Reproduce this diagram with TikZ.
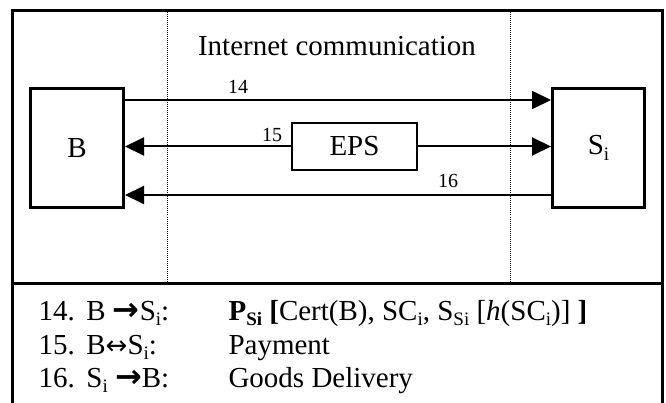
\documentclass[tikz,border=0pt]{standalone}
\usepackage{fontspec}
\setmainfont{Liberation Serif}
\newfontfamily\arrowfont{DejaVu Sans}
\usetikzlibrary{arrows.meta}
\newcommand{\lo}[1]{\raisebox{-0.2em}{\fontsize{19}{19}\selectfont #1}}
\newcommand{\rarr}{{\arrowfont\bfseries\fontsize{32}{32}\selectfont →}}
\newcommand{\barr}{{\arrowfont\fontsize{26}{26}\selectfont ↔}}

\begin{document}
\begin{tikzpicture}[x=1pt,y=-1pt,
    big/.style={font=\fontsize{29}{35}\selectfont},
    lbl/.style={font=\fontsize{20}{24}\selectfont},
    party/.style={draw,line width=3pt,minimum width=93pt,minimum height=119pt,inner sep=0pt,big},
    msg/.style={line width=2pt,-{Triangle[length=19pt,width=18pt]}}]
    \useasboundingbox(0,0)rectangle(666,403);
    \draw[line width=3pt](12,403)--(12,11)--(662,11)--(662,403);
    \draw[line width=3pt](12,283)--(662,283);
    \foreach \x in {167,510}\draw[densely dotted,line width=1pt](\x,12.5)--(\x,281.5);
    \node[big,anchor=base](title)at(337,56){Internet communication};
    \node[party](B)at(77,148){B};
    \node[party,minimum width=92pt](Si)at(598.5,148){S\lo{i}};
    \node[draw,line width=2pt,minimum width=125pt,minimum height=47pt,inner sep=0pt,big](EPS)at(354.5,146.5){EPS};
    \draw[msg]([yshift=48pt]B.east)--([yshift=48pt]Si.west);
    \draw[msg](EPS.west)--(EPS.west-|B.east);
    \draw[msg](EPS.east)--(EPS.east-|Si.west);
    \draw[msg]([yshift=-47pt]Si.west)--([yshift=-47pt]B.east);
    \node[lbl](l14)at(238,87){14};\node[lbl](l15)at(272,135){15};\node[lbl](l16)at(448,181){16};
    % message list
    \node[big,anchor=base west](m14)at(35,320){14.\hspace{0.4em}B \rarr S\lo{i}:};
    \node[big,anchor=base west](m15)at(35,354){15.\hspace{0.4em}B\barr S\lo{i}:};
    \node[big,anchor=base west](m16)at(35,387){16.\hspace{0.4em}S\lo{i} \rarr B:};
    \node[big,anchor=base west](d14)at(225,320){\textbf{P\lo{Si} [}Cert(B), SC\lo{i}, S\lo{Si} [\textit{h}(SC\lo{i})] \textbf{]}};
    \node[big,anchor=base west](d15)at(225,354){Payment};
    \node[big,anchor=base west](d16)at(225,387){Goods Delivery};
  \end{tikzpicture}
\end{document}
